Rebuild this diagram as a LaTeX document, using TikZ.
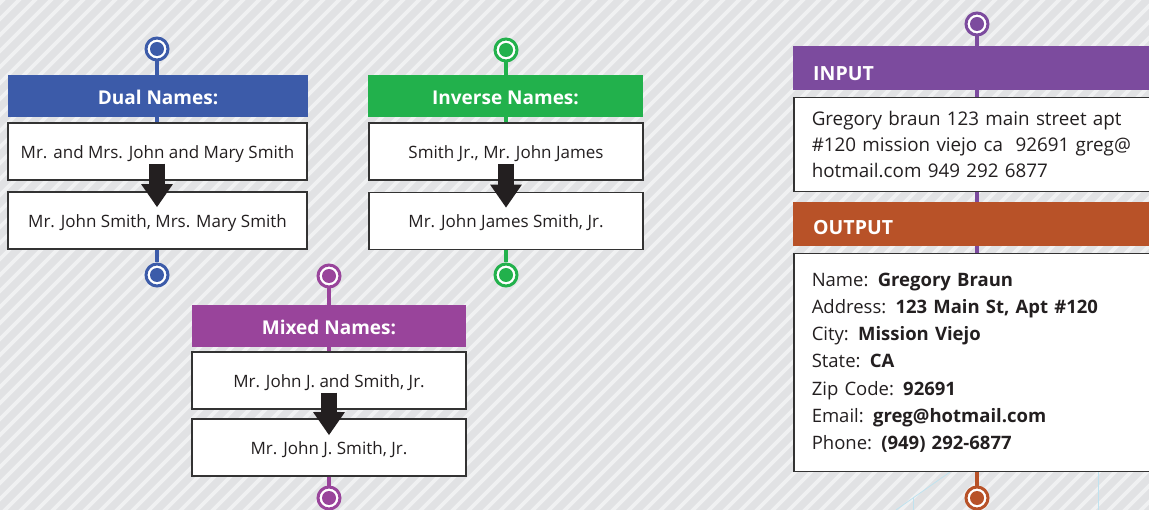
\documentclass[tikz,border=0pt]{standalone}
\usepackage{fontspec}
\setmainfont{Open Sans}
\usetikzlibrary{arrows.meta,calc}
\definecolor{bgc}{HTML}{E1E2E4}
\definecolor{stripec}{HTML}{F0F1F2}
\definecolor{dualc}{HTML}{3C5BA9}
\definecolor{invc}{HTML}{22B14C}
\definecolor{mixc}{HTML}{99449B}
\definecolor{inc}{HTML}{7C4B9E}
\definecolor{outc}{HTML}{B85228}
\definecolor{edgec}{HTML}{333333}
\definecolor{arrc}{HTML}{231F20}
\definecolor{txtc}{HTML}{231F20}
\definecolor{faintc}{HTML}{BFE2EF}
\tikzset{
 hdr/.style={fill=#1, text=white, font=\bfseries\fontsize{19}{22}\selectfont, minimum height=42pt, inner sep=0pt, text height=17.5pt, text depth=0pt},
 namebox/.style={draw=edgec, line width=1.5pt, fill=white, text=txtc, font=\fontsize{17}{20}\selectfont, minimum height=57pt, inner sep=0pt, text height=13.2pt, text depth=0pt},
 conn/.style={draw=#1, line width=4pt},
 jointdot/.style={circle, draw=#1, line width=3pt, fill=white, minimum size=22pt, inner sep=0pt,
   path picture={\fill[#1] (path picture bounding box.center) circle (7pt);}},
 bigarrow/.style={draw=arrc, line width=16pt, -{Triangle[width=30pt,length=23pt]}},
 sidehdr/.style={fill=#1, text=white, font=\bfseries\fontsize{19.5}{22}\selectfont, minimum height=44pt, inner ysep=0pt, inner xsep=20pt, text width=337pt, align=left, text depth=0pt},
 sidebox/.style={draw=edgec, line width=1.5pt, fill=white, text=txtc, inner xsep=18pt, inner ysep=0pt, text width=341pt, align=left},
 faint/.style={draw=faintc, line width=0.8pt},
}
\begin{document}
\begin{tikzpicture}[x=1pt,y=-1pt]
\useasboundingbox (0,0) rectangle (1149,510);
\clip (0,0) rectangle (1149,510);
% background
\fill[bgc] (0,0) rectangle (1149,510);
\foreach \a in {-528,-512,...,1160} {
  \draw[stripec, line width=3.6pt] (\a,515) -- (\a+520,-5);
}
% faint lines bottom right
\draw[faint] (950,472) -- (913,498) -- (896,510);
\draw[faint] (913,498) -- (913,510);
\draw[faint] (1098,472) -- (1098,510);

% ---- Dual Names
\node[jointdot=dualc] (d0) at (157,49) {};
\node[hdr=dualc, minimum width=300pt] (dh) at (158,96) {Dual Names:};
\node[namebox, minimum width=299pt] (d1) at (157.5,151.5) {Mr. and Mrs. John and Mary Smith};
\node[namebox, minimum width=299pt] (d2) at (157.5,220.5) {Mr. John Smith, Mrs. Mary Smith};
\node[jointdot=dualc] (d3) at (157,275) {};
\draw[conn=dualc] (d0.south) -- (d0.south |- dh.north);
\draw[conn=dualc] (dh.south -| d0) -- (d1.north -| d0);
\draw[conn=dualc] (d2.south -| d0) -- (d3.north);
\draw[bigarrow] ($(d1.south -| d0)+(0,-17)$) -- ($(d2.north -| d0)+(0,16)$);

% ---- Inverse Names
\node[jointdot=invc] (v0) at (506,50) {};
\node[hdr=invc, minimum width=275pt] (vh) at (505.5,96) {Inverse Names:};
\node[namebox, minimum width=274pt] (v1) at (506,151.5) {Smith Jr., Mr. John James};
\node[namebox, minimum width=274pt] (v2) at (506,221) {Mr. John James Smith, Jr.};
\node[jointdot=invc] (v3) at (506,275) {};
\draw[conn=invc] (v0.south) -- (v0.south |- vh.north);
\draw[conn=invc] (vh.south -| v0) -- (v1.north -| v0);
\draw[conn=invc] (v2.south -| v0) -- (v3.north);
\draw[bigarrow] ($(v1.south -| v0)+(0,-17)$) -- ($(v2.north -| v0)+(0,16)$);

% ---- Mixed Names
\node[jointdot=mixc] (m0) at (329,276) {};
\node[hdr=mixc, minimum width=274pt] (mh) at (329,326) {Mixed Names:};
\node[namebox, minimum width=274pt] (m1) at (329,380.5) {Mr. John J. and Smith, Jr.};
\node[namebox, minimum width=274pt] (m2) at (329,447.5) {Mr. John J. Smith, Jr.};
\node[jointdot=mixc] (m3) at (329,498) {};
\draw[conn=mixc] (m0.south) -- (m0.south |- mh.north);
\draw[conn=mixc] (mh.south -| m0) -- (m1.north -| m0);
\draw[conn=mixc] (m2.south -| m0) -- (m3.north);
\draw[bigarrow] ($(m1.south -| m0)+(0,-17)$) -- ($(m2.north -| m0)+(0,17)$);

% ---- Input / Output
\node[jointdot=inc] (r0) at (977,24) {};
\node[sidehdr=inc, anchor=west, text height=25pt] (ih) at (793,68) {INPUT};
\node[sidebox, anchor=north west, minimum height=94pt, font=\fontsize{18.8}{26}\selectfont] (ib) at (793,97)
  {Gregory braun 123 main street apt\\ \#120 mission viejo ca\ \ 92691 greg@\\ hotmail.com 949 292 6877};
\node[sidehdr=outc, anchor=west, text height=21pt] (oh) at (793,224) {OUTPUT};
\node[sidebox, anchor=north west, minimum height=218pt, font=\fontsize{18.5}{27.3}\selectfont] (ob) at (793,253)
  {Name: \textbf{Gregory Braun}\\
   Address: \textbf{123 Main St, Apt \#120}\\
   City: \textbf{Mission Viejo}\\
   State: \textbf{CA}\\
   Zip Code: \textbf{92691}\\
   Email: \textbf{greg@hotmail.com}\\
   Phone: \textbf{(949) 292-6877}};
\node[jointdot=outc] (r1) at (977,498) {};
\draw[conn=inc] (r0.south) -- (r0.south |- ih.north);
\draw[conn=inc] (ih.south -| r0) -- (ib.north -| r0);
\draw[conn=inc] (ib.south -| r0) -- (oh.north -| r0);
\draw[conn=inc] (oh.south -| r0) -- (ob.north -| r0);
\draw[conn=outc] (ob.south -| r0) -- (r1.north);
\end{tikzpicture}
\end{document}
